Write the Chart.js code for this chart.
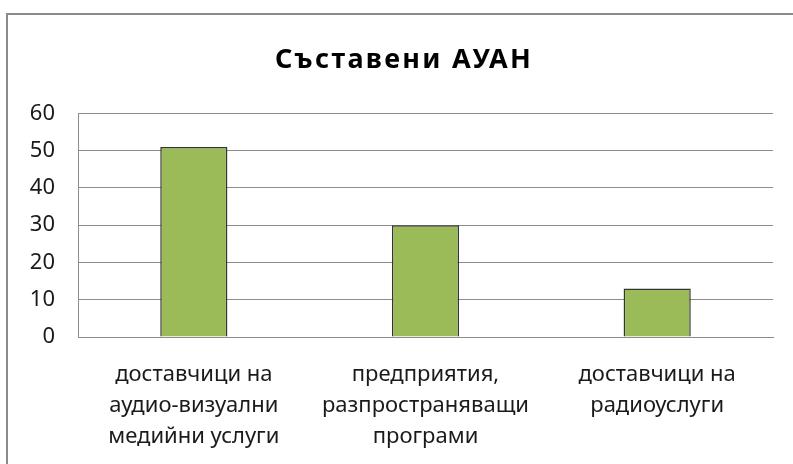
<!DOCTYPE html>
<html><head><meta charset="utf-8">
<script src="https://cdn.jsdelivr.net/npm/chart.js@4"></script>
<style>
html,body{margin:0;padding:0;background:#fff;overflow:hidden;}
#frame{position:absolute;left:6px;top:13px;width:800px;height:470px;border:2px solid #8a8a8a;box-sizing:border-box;}
#wrap{position:absolute;left:0;top:0;width:793px;height:464px;}
</style></head>
<body>
<div id="frame"></div>
<div id="wrap"><canvas id="c" width="793" height="464"></canvas></div>
<script>
const title = "Съставени АУАН";
const categories = [
  ["доставчици на", "аудио-визуални", "медийни услуги"],
  ["предприятия,", "разпространяващи", "програми"],
  ["доставчици на", "радиоуслуги"]
];
const values = [51, 30, 13];
const yTicks = [0, 10, 20, 30, 40, 50, 60];

const FONT = "'Noto Sans', 'DejaVu Sans', sans-serif";

const titleSpacing = {
  id: 'titleSpacing',
  beforeDraw(chart) {
    const tb = chart.titleBlock;
    if (tb && !tb._spaced) {
      const orig = tb.draw;
      tb.draw = function () {
        const ctx = this.ctx;
        ctx.save();
        ctx.translate(17.5, 0);
        try { ctx.letterSpacing = '2.3px'; } catch (e) {}
        orig.apply(this, arguments);
        ctx.restore();
      };
      tb._spaced = true;
    }
  }
};

new Chart(document.getElementById('c'), {
  type: 'bar',
  data: {
    labels: categories,
    datasets: [{
      data: values,
      backgroundColor: '#9BBB59',
      borderColor: '#353535',
      borderWidth: 1.5,
      barPercentage: 0.29,
      categoryPercentage: 1
    }]
  },
  plugins: [titleSpacing],
  options: {
    responsive: false,
    animation: false,
    layout: { padding: { left: 0, right: 20, top: 0, bottom: 0 } },
    plugins: {
      legend: { display: false },
      tooltip: { enabled: false },
      title: {
        display: true,
        text: title,
        color: '#000',
        font: { family: FONT, size: 27, weight: 'bold', lineHeight: 1.2 },
        padding: { top: 44, bottom: 37 }
      }
    },
    scales: {
      y: {
        min: 0, max: 60,
        afterBuildTicks: (s) => { s.ticks = yTicks.map(v => ({ value: v })); },
        afterFit: (s) => { s.width = 78; },
        grid: { color: '#8c8c8c', lineWidth: 1, drawTicks: false },
        border: { color: '#8c8c8c', width: 1 },
        ticks: { color: '#1a1a1a', padding: 23, font: { family: FONT, size: 22 } }
      },
      x: {
        afterFit: (s) => { s.height = 127; },
        grid: { display: false, drawTicks: false },
        border: { color: '#8c8c8c', width: 1 },
        ticks: { color: '#1a1a1a', padding: 22, maxRotation: 0, autoSkip: false,
                 font: { family: FONT, size: 22, lineHeight: 1.41 } }
      }
    }
  }
});
</script>
</body></html>
